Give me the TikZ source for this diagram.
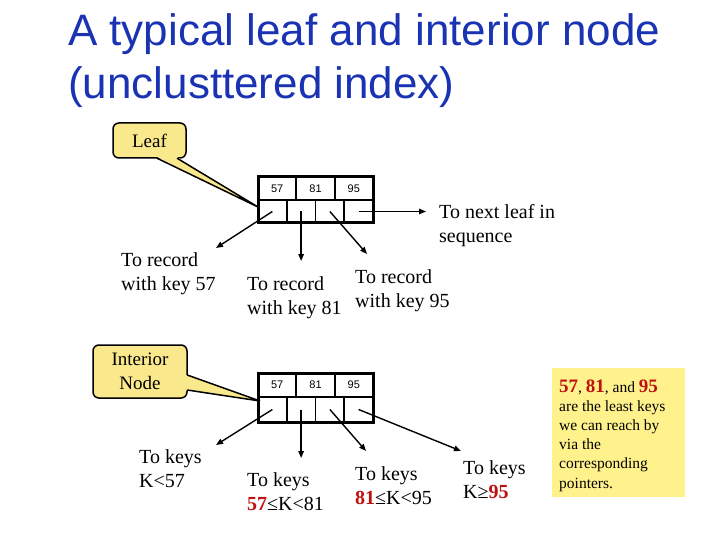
\documentclass[tikz,border=0pt]{standalone}
\usepackage{fontspec}
\setmainfont{Liberation Serif}
\newfontfamily\titlefont{Liberation Sans}
\newfontfamily\numfont{Liberation Sans}
\usetikzlibrary{arrows.meta}
\definecolor{titleblue}{RGB}{26,51,179}
\definecolor{keyred}{RGB}{192,16,16}
\definecolor{callyellow}{RGB}{249,233,140}
\definecolor{noteyellow}{RGB}{255,242,140}
\tikzset{
  topcell/.style={draw, line width=1.8pt, minimum width=38.33pt, minimum height=23pt, inner sep=0pt, font=\numfont\fontsize{11}{11}\selectfont},
  botcell/.style={draw, line width=1.8pt, minimum width=28.75pt, minimum height=23pt, inner sep=0pt},
  frame/.style={draw, line width=3pt, minimum width=115pt, minimum height=46pt, inner sep=0pt},
  ptr/.style={line width=1.4pt, -{Triangle[length=7pt,width=5.5pt]}},
  txt/.style={font=\fontsize{20}{24}\selectfont, align=left, inner sep=0pt, anchor=base west},
  callbox/.style={draw, line width=1.5pt, fill=callyellow, rounded corners=6pt, inner sep=0pt, font=\fontsize{19}{24}\selectfont, align=center}
}
\newcommand{\rk}[1]{\textcolor{keyred}{\textbf{#1}}}
\begin{document}
\begin{tikzpicture}[x=1pt,y=-1pt]
\useasboundingbox (0,0) rectangle (720,540);

% title (base anchor = last line baseline)
\node[anchor=base west, inner sep=0pt, align=left, text=titleblue, font=\titlefont\fontsize{44}{53}\selectfont] (title) at (68,99) {A typical leaf and interior node\\(unclusttered index)};

% ---------- leaf node ----------
\node[topcell] (lk1) at (277.17,188.5) {57};
\node[topcell] (lk2) at (315.5,188.5) {81};
\node[topcell] (lk3) at (353.83,188.5) {95};
\node[botcell] (lp1) at (272.38,211.5) {};
\node[botcell] (lp2) at (301.13,211.5) {};
\node[botcell] (lp3) at (329.88,211.5) {};
\node[botcell] (lp4) at (358.63,211.5) {};
\node[frame] (leafbox) at (315.5,200) {};

\coordinate (le1) at (216,248);
\coordinate (le2) at (301.13,261);
\coordinate (le3) at (367,254);
\coordinate (le4) at (426,211.5);
\draw[ptr] (lp1.center) -- (le1);
\draw[ptr] (lp2.center) -- (le2);
\draw[ptr] (lp3.center) -- (le3);
\draw[ptr] (lp4.center) -- (le4);

\node[txt] (r57) at (121,290) {To record\\with key 57};
\node[txt] (r81) at (247,314) {To record\\with key 81};
\node[txt] (r95) at (355,307) {To record\\with key 95};
\node[txt] (next) at (439,242) {To next leaf in\\sequence};

% leaf callout
\node[callbox, minimum width=73pt, minimum height=35pt] (leafcall) at (149.5,140.5) {Leaf};
\coordinate (leaftip) at (258,207);
\fill[callyellow] (157,157) -- (leaftip) -- (177,157) -- cycle;
\draw[line width=1.5pt] (157,158.2) -- (leaftip) -- (177,158.2);

% ---------- interior node ----------
\node[topcell, minimum height=24pt] (ik1) at (277.17,385) {57};
\node[topcell, minimum height=24pt] (ik2) at (315.5,385) {81};
\node[topcell, minimum height=24pt] (ik3) at (353.83,385) {95};
\node[botcell, minimum height=25pt] (ip1) at (272.38,409.5) {};
\node[botcell, minimum height=25pt] (ip2) at (301.13,409.5) {};
\node[botcell, minimum height=25pt] (ip3) at (329.88,409.5) {};
\node[botcell, minimum height=25pt] (ip4) at (358.63,409.5) {};
\node[frame, minimum height=49pt] (intbox) at (315.5,397.5) {};

\coordinate (ie1) at (216,445);
\coordinate (ie2) at (301.13,458);
\coordinate (ie3) at (366,451);
\coordinate (ie4) at (461,451);
\draw[ptr] (ip1.center) -- (ie1);
\draw[ptr] (ip2.center) -- (ie2);
\draw[ptr] (ip3.center) -- (ie3);
\draw[ptr] (ip4.center) -- (ie4);

\node[txt] (k0) at (139,487) {To keys\\K<57};
\node[txt] (k1) at (247,510) {To keys\\\rk{57}≤K<81};
\node[txt] (k2) at (355,504) {To keys\\\rk{81}≤K<95};
\node[txt] (k3) at (463,498) {To keys\\K≥\rk{95}};

% interior callout
\node[callbox, minimum width=94pt, minimum height=53pt] (intcall) at (140,371.5) {Interior\\Node};
\coordinate (inttip) at (260,401);
\fill[callyellow] (186,375) -- (inttip) -- (186,390) -- cycle;
\draw[line width=1.5pt] (187.2,375) -- (inttip) -- (187.2,390);

% note
\node[fill=noteyellow, minimum width=133pt, minimum height=129pt, inner sep=0pt, anchor=north west] (note) at (552,368) {};
\node[anchor=base west, inner sep=0pt, align=left, font=\fontsize{15.5}{19.2}\selectfont] (notetext) at (559,488)
 {{\fontsize{19}{19}\selectfont\rk{57}}, {\fontsize{19}{19}\selectfont\rk{81}}, and {\fontsize{19}{19}\selectfont\rk{95}}\\
  are the least keys\\we can reach by\\via the\\corresponding\\pointers.};
\end{tikzpicture}
\end{document}
